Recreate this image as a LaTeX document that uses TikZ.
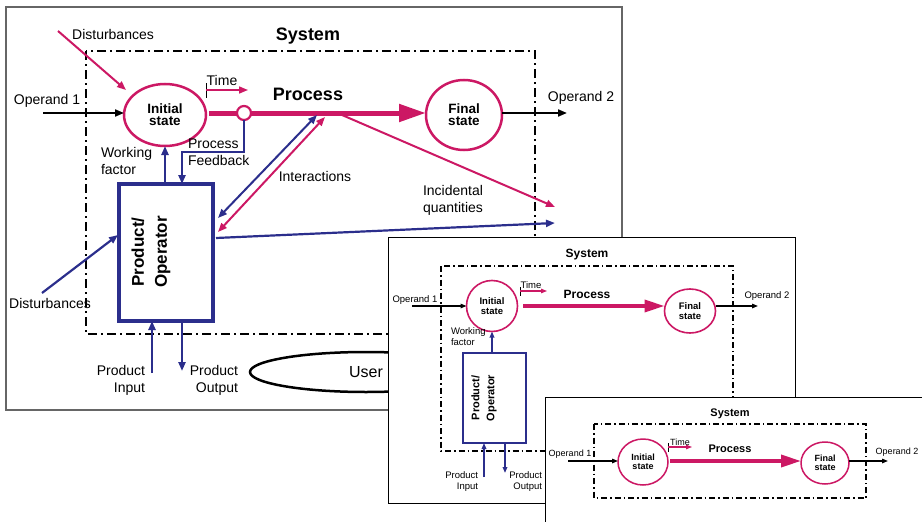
\documentclass[tikz,border=0pt]{standalone}
\usepackage{fontspec}
\setmainfont{Liberation Sans}
\usetikzlibrary{arrows.meta,shapes.geometric,calc}
\definecolor{crim}{RGB}{204,24,100}
\definecolor{navy}{RGB}{43,46,140}
\begin{document}
\begin{tikzpicture}[x=1pt,y=-1pt,
  every node/.style={inner sep=0pt, outer sep=0pt},
  lbl/.style={font=\fontsize{14}{17}\selectfont},
  lblb/.style={font=\fontsize{9.5}{11}\selectfont},
  lblc/.style={font=\fontsize{9}{10.5}\selectfont},
  frameA/.style={draw=black!60, line width=1.5pt},
  frameB/.style={draw=black, line width=1pt, fill=white},
  dd/.style={draw=black, line width=1.8pt, dash pattern=on 9pt off 4pt on 2pt off 4pt},
  dds/.style={draw=black, line width=1.1pt, dash pattern=on 6pt off 3pt on 1.5pt off 3pt},
  stA/.style={ellipse, draw=crim, line width=2.5pt, fill=white, align=center, font=\bfseries\fontsize{13.5}{12}\selectfont},
  stB/.style={ellipse, draw=crim, line width=1.6pt, fill=white, align=center, font=\bfseries\fontsize{9.5}{9.5}\selectfont},
  stC/.style={ellipse, draw=crim, line width=1.5pt, fill=white, align=center, font=\bfseries\fontsize{9}{9}\selectfont},
  tipA/.style={-{Triangle[length=9pt,width=7pt]}},
  tipB/.style={-{Triangle[length=6pt,width=4.5pt]}},
  blk/.style={draw=black, line width=2pt, tipA},
  crm/.style={draw=crim, line width=2pt, tipA},
  nav/.style={draw=navy, line width=2.2pt, tipA},
  dnav/.style={draw=navy, line width=2pt, {Triangle[length=9pt,width=7pt]}-{Triangle[length=9pt,width=7pt]}},
  dcrm/.style={draw=crim, line width=2pt, {Triangle[length=9pt,width=7pt]}-{Triangle[length=9pt,width=7pt]}},
  procl/.style={draw=crim, line width=5pt},
  proc/.style={draw=crim, line width=5pt, -{Triangle[length=27pt,width=17pt]}},
  blkB/.style={draw=black, line width=1.3pt, tipB},
  crmB/.style={draw=crim, line width=1.3pt, tipB},
  navB/.style={draw=navy, line width=1.5pt, tipB},
  procB/.style={draw=crim, line width=3.5pt, -{Triangle[length=20pt,width=12pt]}},
  tick/.style={draw=black, line width=0.8pt}
]
\useasboundingbox (0,0) rectangle (922,522);

% ================= Panel 1 =================
\draw[frameA] (6,7) rectangle (622,410);
\node[font=\bfseries\fontsize{18}{18}\selectfont] (sys1) at (308,36) {System};
\draw[dd] (86,51) rectangle (535,334);

\node[stA, minimum width=82, minimum height=62] (init1) at (165,115) {Initial\\state};
\node[stA, minimum width=76, minimum height=70] (fin1) at (464,115) {Final\\state};
\node[circle, draw=crim, line width=2.2pt, fill=white, minimum size=14] (jn1) at (244,113) {};
\node[draw=navy, line width=3.5pt, minimum width=94, minimum height=137] (box1) at (166,252.5) {};
\node[rotate=90, align=center, font=\bfseries\fontsize{17}{23}\selectfont] (boxt1) at (151,252) {Product/\\Operator};
\node[ellipse, draw=black, line width=2.5pt, minimum width=232, minimum height=40, font=\fontsize{16}{16}\selectfont] (user1) at (366,372) {User};

% operands
\coordinate (op1a) at (43,113);
\draw[blk] (op1a) -- (op1a -| init1.west);
\coordinate (op2a) at (567,113);
\draw[blk] (fin1.east |- op2a) -- (op2a);
\node[lbl] (op1l) at (47,101) {Operand 1};
\node[lbl] (op2l) at (581,98) {Operand 2};

% disturbances top
\coordinate (dt1) at (58,31);
\coordinate (dt1e) at (126,90);
\draw[crm] (dt1) -- (dt1e);
\node[lbl] (dt1l) at (113,34) {Disturbances};

% time
\draw[tick] (206,83) -- (206,98);
\coordinate (tm1) at (206,90);
\coordinate (tm1e) at (248,90);
\draw[crm, line width=1.6pt] (tm1) -- (tm1e);
\node[lbl] (tm1l) at (222,80) {Time};

% process
\coordinate (pa1) at (209,113);
\draw[procl] (pa1) -- (jn1);
\draw[proc] (jn1) -- (fin1.west |- jn1);
\node[font=\bfseries\fontsize{18}{18}\selectfont] (proc1l) at (308,94) {Process};

% feedback / working factor
\coordinate (fb1) at (182,152);
\draw[nav] (jn1.south) |- (fb1) -- (fb1 |- box1.north);
\draw[nav] (init1.south |- box1.north) -- (init1.south);
\node[lbl, align=left, anchor=west] (fbl) at (188,152) {Process\\Feedback};
\node[lbl, align=left, anchor=west] (wfl) at (101,161) {Working\\factor};

% interactions
\coordinate (ia1) at (218,218);
\coordinate (ib1) at (317,115);
\draw[dnav] (ia1) -- (ib1);
\coordinate (ic1) at (218,232);
\coordinate (id1) at (325,117);
\draw[dcrm] (ic1) -- (id1);
\node[lbl] (intl) at (315,176) {Interactions};

% incidental quantities
\coordinate (iq1) at (342,115);
\coordinate (iq1e) at (555,207);
\draw[crm] (iq1) -- (iq1e);
\coordinate (iq2) at (216,238);
\coordinate (iq2e) at (555,223);
\draw[nav] (iq2) -- (iq2e);
\node[lbl, align=left, anchor=west] (iql) at (423,200) {Incidental\\quantities};

% disturbances bottom
\coordinate (db1) at (42,293);
\coordinate (db1e) at (118,235);
\draw[nav] (db1) -- (db1e);
\node[lbl] (db1l) at (50,303) {Disturbances};

% product input/output
\coordinate (pin1) at (152,373);
\draw[nav] (pin1) -- (pin1 |- box1.south);
\coordinate (pout1) at (182,371);
\draw[nav] (pout1 |- box1.south) -- (pout1);
\node[lbl, align=right, anchor=east] (pinl) at (145,380) {Product\\Input};
\node[lbl, align=right, anchor=east] (poutl) at (238,380) {Product\\Output};

% ================= Panel 2 =================
\draw[frameB] (388,237) rectangle (795,503);
\node[font=\bfseries\fontsize{12}{12}\selectfont] (sys2) at (587,255) {System};
\draw[dds] (441,266) rectangle (733,451);
\node[stB, minimum width=51, minimum height=51] (init2) at (492,306) {Initial\\state};
\node[stB, minimum width=51, minimum height=44] (fin2) at (690,311) {Final\\state};
\node[draw=navy, line width=2.5pt, minimum width=63, minimum height=90] (box2) at (494.5,398) {};
\node[rotate=90, align=center, font=\bfseries\fontsize{11}{15}\selectfont] (boxt2) at (484,398) {Product/\\Operator};

\coordinate (op1b) at (412,306);
\draw[blkB] (op1b) -- (op1b -| init2.west);
\coordinate (op2b) at (758,306);
\draw[blkB] (fin2.east |- op2b) -- (op2b);
\node[lblb] (op1bl) at (415,300) {Operand 1};
\node[lblb] (op2bl) at (767,296) {Operand 2};

\draw[tick] (520,287) -- (520,296);
\coordinate (tm2) at (520,291);
\coordinate (tm2e) at (547,291);
\draw[crmB, line width=1.1pt] (tm2) -- (tm2e);
\node[lblb] (tm2l) at (531,285) {Time};

\coordinate (pa2) at (523,306);
\draw[procB] (pa2) -- (pa2 -| fin2.west);
\node[font=\bfseries\fontsize{12}{12}\selectfont] (proc2l) at (587,294) {Process};

\draw[navB] (init2.south |- box2.north) -- (init2.south);
\node[lblb, align=left, anchor=west] (wf2l) at (451,337) {Working\\factor};

\coordinate (pin2) at (484,477);
\draw[navB] (pin2) -- (pin2 |- box2.south);
\coordinate (pout2) at (505,473);
\draw[navB] (pout2 |- box2.south) -- (pout2);
\node[lblb, align=right, anchor=east] (pin2l) at (478,482) {Product\\Input};
\node[lblb, align=right, anchor=east] (pout2l) at (542,482) {Product\\Output};

% ================= Panel 3 =================
\fill[white] (545,397) rectangle (930,530);
\draw[draw=black, line width=1pt] (930,397) -- (545,397) -- (545,530);
\node[font=\bfseries\fontsize{11}{11}\selectfont] (sys3) at (730,414) {System};
\draw[dds] (594,424) rectangle (866,498);
\node[stC, minimum width=50, minimum height=46] (init3) at (643,462) {Initial\\state};
\node[stC, minimum width=48, minimum height=42] (fin3) at (825,463) {Final\\state};

\coordinate (op1c) at (568,461);
\draw[blkB] (op1c) -- (op1c -| init3.west);
\coordinate (op2c) at (888,461);
\draw[blkB] (fin3.east |- op2c) -- (op2c);
\node[lblc] (op1cl) at (570,454) {Operand 1};
\node[lblc] (op2cl) at (897,452) {Operand 2};

\draw[tick] (668,443) -- (668,452);
\coordinate (tm3) at (668,447);
\coordinate (tm3e) at (692,447);
\draw[crmB, line width=1.1pt] (tm3) -- (tm3e);
\node[lblc] (tm3l) at (680,442) {Time};

\coordinate (pa3) at (670,461);
\draw[procB] (pa3) -- (pa3 -| fin3.west);
\node[font=\bfseries\fontsize{11}{11}\selectfont] (proc3l) at (730,449) {Process};
\end{tikzpicture}
\end{document}
